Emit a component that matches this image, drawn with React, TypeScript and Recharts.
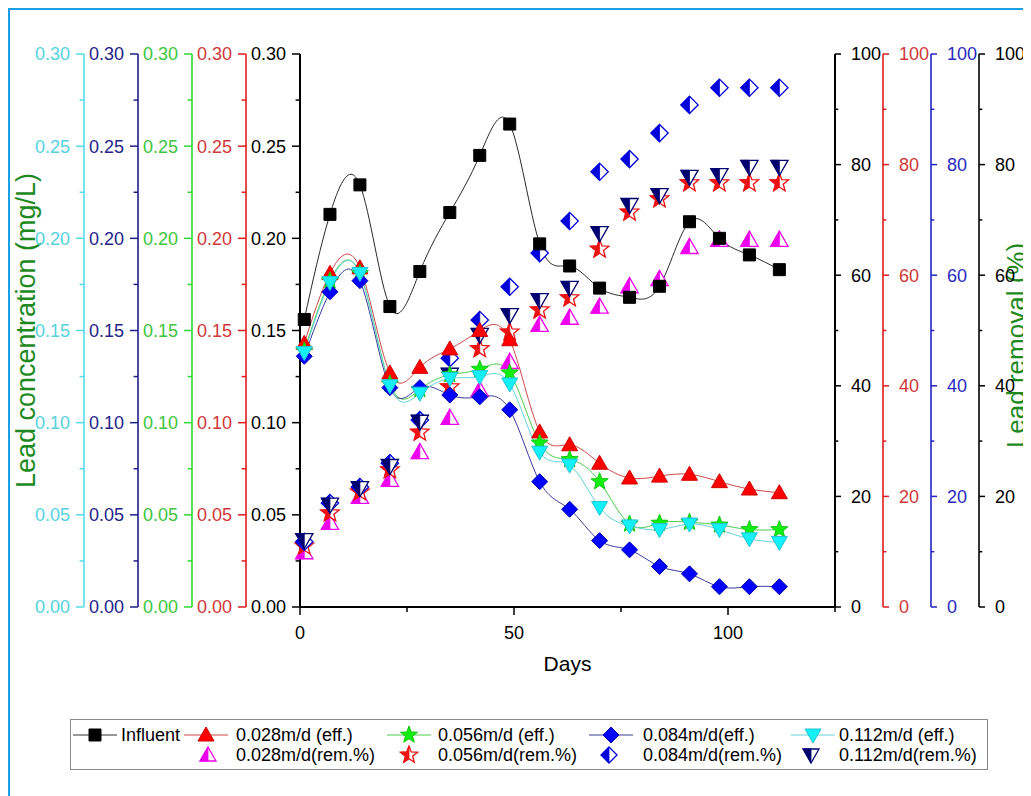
import { ComposedChart, Line, Scatter, XAxis, YAxis, Legend } from 'recharts';

// sampling days
const days = [1, 7, 14, 21, 28, 35, 42, 49, 56, 63, 70, 77, 84, 91, 98, 105, 112];

// lead concentration (mg/L)
const influent = [0.156, 0.213, 0.229, 0.163, 0.182, 0.214, 0.245, 0.262, 0.197, 0.185, 0.173, 0.168, 0.174, 0.209, 0.2, 0.191, 0.183];
const eff028 = [0.143, 0.181, 0.184, 0.127, 0.13, 0.14, 0.15, 0.145, 0.095, 0.088, 0.078, 0.07, 0.071, 0.072, 0.068, 0.064, 0.062];
const eff056 = [0.139, 0.177, 0.181, 0.121, 0.118, 0.126, 0.129, 0.127, 0.089, 0.08, 0.068, 0.045, 0.0455, 0.046, 0.0445, 0.042, 0.042];
const eff084 = [0.136, 0.171, 0.177, 0.119, 0.119, 0.115, 0.114, 0.107, 0.068, 0.053, 0.036, 0.031, 0.022, 0.018, 0.011, 0.011, 0.011];
const eff112 = [0.138, 0.176, 0.181, 0.12, 0.116, 0.124, 0.125, 0.121, 0.084, 0.077, 0.054, 0.044, 0.042, 0.045, 0.042, 0.037, 0.035];

// lead removal (%)
const rem028 = [9.9, 15.2, 19.9, 23.0, 28.0, 34.2, 39.2, 44.3, 51.0, 52.3, 54.3, 58.0, 59.3, 65.1, 66.4, 66.4, 66.4];
const rem056 = [11.0, 17.0, 20.8, 24.8, 31.6, 39.8, 46.7, 49.7, 53.7, 55.9, 64.7, 71.4, 73.8, 76.7, 76.7, 76.7, 76.7];
const rem084 = [11.8, 18.8, 21.7, 26.0, 33.8, 45.0, 51.9, 57.9, 64.0, 69.8, 78.7, 81.0, 85.7, 90.8, 93.9, 93.9, 93.9];
const rem112 = [12.1, 18.5, 21.5, 25.5, 33.5, 42.0, 49.2, 52.8, 55.5, 57.7, 67.6, 72.7, 74.5, 77.8, 78.1, 79.6, 79.6];

// axis ticks
const concTicks = [0, 0.025, 0.05, 0.075, 0.1, 0.125, 0.15, 0.175, 0.2, 0.225, 0.25, 0.275, 0.3];
const remTicks = [0, 10, 20, 30, 40, 50, 60, 70, 80, 90, 100];
const dayTicks = [0, 25, 50, 75, 100, 125];

const data = days.map((day, i) => ({
  day,
  influent: influent[i],
  eff028: eff028[i],
  eff056: eff056[i],
  eff084: eff084[i],
  eff112: eff112[i],
  rem028: rem028[i],
  rem056: rem056[i],
  rem084: rem084[i],
  rem112: rem112[i],
}));

const FONT = '"Liberation Sans", Arial, Helvetica, sans-serif';
const TITLE_GREEN = '#1e8a1e';

// axis ids sort inner -> outer
const effSeries = [
  { key: 'influent', name: 'Influent', axis: 'L1', line: '#2a2a2a', kind: 'square', fill: '#000000', stroke: '#000000' },
  { key: 'eff028', name: '0.028m/d (eff.)', axis: 'L2', line: '#d04848', kind: 'up', fill: '#ff0000', stroke: '#d00000' },
  { key: 'eff056', name: '0.056m/d (eff.)', axis: 'L3', line: '#4cca4c', kind: 'star', fill: '#11ee11', stroke: '#10c810' },
  { key: 'eff084', name: '0.084m/d(eff.)', axis: 'L4', line: '#3a3a9c', kind: 'diamond', fill: '#0000ff', stroke: '#0000b0' },
  { key: 'eff112', name: '0.112m/d (eff.)', axis: 'L5', line: '#62d2da', kind: 'down', fill: '#14f0f8', stroke: '#20c4d4' },
];

const remSeries = [
  { key: 'rem028', name: '0.028m/d(rem.%)', axis: 'R1', kind: 'up', color: '#ee00ee' },
  { key: 'rem056', name: '0.056m/d(rem.%)', axis: 'R2', kind: 'star', color: '#ee1111' },
  { key: 'rem084', name: '0.084m/d(rem.%)', axis: 'R3', kind: 'diamond', color: '#0000dd' },
  { key: 'rem112', name: '0.112m/d(rem.%)', axis: 'R4', kind: 'down', color: '#000070' },
];

const leftAxes = [
  { id: 'L1', line: '#000000', text: '#000000' },
  { id: 'L2', line: '#e01c1c', text: '#d03838' },
  { id: 'L3', line: '#2ed82e', text: '#3cc63c' },
  { id: 'L4', line: '#1e1e8a', text: '#23238a' },
  { id: 'L5', line: '#55dce6', text: '#55d2de' },
];

const rightAxes = [
  { id: 'R1', line: '#000000', text: '#000000' },
  { id: 'R2', line: '#e01c1c', text: '#d03838' },
  { id: 'R3', line: '#2424c8', text: '#2a2ac0' },
  { id: 'R4', line: '#000000', text: '#000000' },
];

type Pt = [number, number];

function shapePts(kind: string, cx: number, cy: number, s = 1): { full: Pt[]; left: Pt[] } {
  if (kind === 'square') {
    const h = 6 * s;
    return {
      full: [[cx - h, cy - h], [cx + h, cy - h], [cx + h, cy + h], [cx - h, cy + h]],
      left: [[cx - h, cy - h], [cx, cy - h], [cx, cy + h], [cx - h, cy + h]],
    };
  }
  const a8 = 8 * s;
  const a6 = 6 * s;
  if (kind === 'up') {
    return {
      full: [[cx, cy - a8], [cx + a8, cy + a6], [cx - a8, cy + a6]],
      left: [[cx, cy - a8], [cx, cy + a6], [cx - a8, cy + a6]],
    };
  }
  if (kind === 'down') {
    return {
      full: [[cx - a8, cy - a6], [cx + a8, cy - a6], [cx, cy + a8]],
      left: [[cx - a8, cy - a6], [cx, cy - a6], [cx, cy + a8]],
    };
  }
  if (kind === 'diamond') {
    return {
      full: [[cx, cy - a8], [cx + a8, cy], [cx, cy + a8], [cx - a8, cy]],
      left: [[cx, cy - a8], [cx, cy + a8], [cx - a8, cy]],
    };
  }
  // star
  const pts: Pt[] = [];
  for (let k = 0; k < 10; k++) {
    const a = ((-90 + 36 * k) * Math.PI) / 180;
    const r = (k % 2 === 0 ? 9 : 3.8) * s;
    pts.push([cx + r * Math.cos(a), cy + r * Math.sin(a)]);
  }
  return { full: pts, left: [pts[5], pts[6], pts[7], pts[8], pts[9], pts[0]] };
}

const toStr = (p: Pt[]) => p.map((q) => `${q[0].toFixed(2)},${q[1].toFixed(2)}`).join(' ');

function Marker({ cx, cy, kind, fill, stroke }: { cx: number; cy: number; kind: string; fill: string; stroke: string }) {
  if (cx == null || cy == null) return null;
  const { full } = shapePts(kind, cx, cy);
  return <polygon points={toStr(full)} fill={fill} stroke={stroke} strokeWidth={1} />;
}

function HalfMarker({ cx, cy, kind, color, s = 1.08 }: { cx: number; cy: number; kind: string; color: string; s?: number }) {
  if (cx == null || cy == null) return null;
  const { full, left } = shapePts(kind, cx, cy, s);
  return (
    <g>
      <polygon points={toStr(full)} fill="#ffffff" stroke={color} strokeWidth={1.3} />
      <polygon points={toStr(left)} fill={color} stroke={color} strokeWidth={0.8} />
    </g>
  );
}

function isMajor(v: number, step: number) {
  return Math.abs(v / step - Math.round(v / step)) < 1e-6;
}

function makeYTick(side: 'left' | 'right', lineColor: string, textColor: string, step: number, digits: number, size: number, gap: number) {
  return (p: any) => {
    const v = p.payload.value;
    const major = isMajor(v, step);
    const dir = side === 'left' ? -1 : 1;
    const axisX = p.x - dir * (size + gap);
    const len = major ? size : size * 0.55;
    return (
      <g>
        <line x1={axisX} x2={axisX + dir * len} y1={p.y} y2={p.y} stroke={lineColor} strokeWidth={1.5} />
        {major && (
          <text x={p.x} y={p.y} dy="0.36em" textAnchor={side === 'left' ? 'end' : 'start'} fill={textColor} fontSize={18} fontFamily={FONT}>
            {v.toFixed(digits)}
          </text>
        )}
      </g>
    );
  };
}

const xTick = (p: any) => {
  const v = p.payload.value;
  const major = isMajor(v, 50);
  const axisY = p.y - 8 - 11;
  return (
    <g>
      <line x1={p.x} x2={p.x} y1={axisY} y2={axisY + (major ? 8 : 5)} stroke="#000" strokeWidth={1.5} />
      {major && (
        <text x={p.x} y={p.y} dy="0.71em" textAnchor="middle" fill="#000" fontSize={18} fontFamily={FONT}>
          {v}
        </text>
      )}
    </g>
  );
};

const legendCells = [
  { name: effSeries[0].name, row: 0, sym: 24, txt: 50, kind: 'square', fill: '#000', stroke: '#000', line: '#333', half: false },
  { name: effSeries[1].name, row: 0, sym: 135, txt: 165, kind: 'up', fill: effSeries[1].fill, stroke: effSeries[1].stroke, line: effSeries[1].line, half: false },
  { name: effSeries[2].name, row: 0, sym: 338, txt: 367, kind: 'star', fill: effSeries[2].fill, stroke: effSeries[2].stroke, line: effSeries[2].line, half: false },
  { name: effSeries[3].name, row: 0, sym: 540, txt: 572, kind: 'diamond', fill: effSeries[3].fill, stroke: effSeries[3].stroke, line: effSeries[3].line, half: false },
  { name: effSeries[4].name, row: 0, sym: 742, txt: 768, kind: 'down', fill: effSeries[4].fill, stroke: effSeries[4].stroke, line: effSeries[4].line, half: false },
  { name: remSeries[0].name, row: 1, sym: 137, txt: 165, kind: 'up', fill: remSeries[0].color, stroke: remSeries[0].color, line: '', half: true },
  { name: remSeries[1].name, row: 1, sym: 338, txt: 367, kind: 'star', fill: remSeries[1].color, stroke: remSeries[1].color, line: '', half: true },
  { name: remSeries[2].name, row: 1, sym: 538, txt: 572, kind: 'diamond', fill: remSeries[2].color, stroke: remSeries[2].color, line: '', half: true },
  { name: remSeries[3].name, row: 1, sym: 740, txt: 768, kind: 'down', fill: remSeries[3].color, stroke: remSeries[3].color, line: '', half: true },
];

function LegendBox() {
  return (
    <div
      style={{
        position: 'relative',
        width: 918,
        height: 51,
        border: '1px solid #8a8a8a',
        background: '#fff',
        fontFamily: FONT,
        fontSize: 18,
        color: '#000',
        boxSizing: 'border-box',
      }}
    >
      {legendCells.map((c) => {
        const cy = c.row === 0 ? 15 : 35;
        return (
          <div key={c.name}>
            <svg width={48} height={20} style={{ position: 'absolute', left: c.sym - 24, top: cy - 10, overflow: 'visible' }}>
              {c.line && <line x1={2} x2={46} y1={10} y2={10} stroke={c.line} strokeWidth={1} />}
              {c.half ? (
                <HalfMarker cx={24} cy={10} kind={c.kind} color={c.fill} s={1} />
              ) : (
                <Marker cx={24} cy={10} kind={c.kind} fill={c.fill} stroke={c.stroke} />
              )}
            </svg>
            <span style={{ position: 'absolute', left: c.txt, top: cy - 11, lineHeight: '22px', whiteSpace: 'nowrap' }}>{c.name}</span>
          </div>
        );
      })}
    </div>
  );
}

export default function App() {
  return (
    <div style={{ position: 'relative', width: 1030, height: 800, border: '2px solid #1ba0e6', background: '#fff' }}>
      <ComposedChart
        width={1021}
        height={780}
        data={data}
        margin={{ top: 44, right: 4, bottom: 113, left: 20 }}
        style={{ fontFamily: FONT }}
      >
        <XAxis
          dataKey="day"
          type="number"
          domain={[0, 125]}
          ticks={dayTicks}
          interval={0}
          height={70}
          tickSize={8}
          tickMargin={11}
          tickLine={false}
          axisLine={{ stroke: '#000', strokeWidth: 2 }}
          tick={xTick}
          label={(p: any) => {
            const vb = p.viewBox || { x: 290, y: 597, width: 535 };
            return (
              <text x={vb.x + vb.width / 2} y={vb.y + 64} textAnchor="middle" fontSize={21} fontFamily={FONT} fill="#000">
                Days
              </text>
            );
          }}
        />
        {leftAxes.map((a, i) => (
          <YAxis
            key={a.id}
            yAxisId={a.id}
            orientation="left"
            width={54}
            domain={[0, 0.3]}
            ticks={concTicks}
            interval={0}
            tickSize={8}
            tickMargin={6}
            tickLine={false}
            axisLine={{ stroke: a.line, strokeWidth: a.id === 'L1' ? 2 : 1.6 }}
            tick={makeYTick('left', a.line, a.text, 0.05, 2, 8, 6)}
            label={
              i === leftAxes.length - 1
                ? (p: any) => {
                    const vb = p.viewBox || { x: 20, y: 44, height: 553 };
                    const x = vb.x - 4;
                    const y = vb.y + vb.height / 2;
                    return (
                      <text x={x} y={y} dy="0.35em" transform={`rotate(-90 ${x} ${y})`} textAnchor="middle" fontSize={27} fontFamily={FONT} fill={TITLE_GREEN}>
                        Lead concentration (mg/L)
                      </text>
                    );
                  }
                : undefined
            }
          />
        ))}
        {rightAxes.map((a, i) => (
          <YAxis
            key={a.id}
            yAxisId={a.id}
            orientation="right"
            width={48}
            domain={[0, 100]}
            ticks={remTicks}
            interval={0}
            tickSize={6}
            tickMargin={10}
            tickLine={false}
            axisLine={{ stroke: a.line, strokeWidth: a.id === 'R1' ? 2 : 1.6 }}
            tick={makeYTick('right', a.line, a.text, 20, 0, 6, 10)}
            label={
              i === rightAxes.length - 1
                ? (p: any) => {
                    const vb = p.viewBox || { x: 969, y: 44, height: 553 };
                    const x = vb.x + 37;
                    const y = vb.y + vb.height / 2 + 15;
                    return (
                      <text x={x} y={y} dy="0.35em" transform={`rotate(-90 ${x} ${y})`} textAnchor="middle" fontSize={26} fontFamily={FONT} fill={TITLE_GREEN}>
                        Lead removal (%)
                      </text>
                    );
                  }
                : undefined
            }
          />
        ))}
        {effSeries.map((s) => (
          <Line
            key={s.key}
            yAxisId={s.axis}
            dataKey={s.key}
            name={s.name}
            type="natural"
            stroke={s.line}
            strokeWidth={1}
            isAnimationActive={false}
            activeDot={false}
            dot={(p: any) => <Marker key={`${s.key}-${p.index}`} cx={p.cx} cy={p.cy} kind={s.kind} fill={s.fill} stroke={s.stroke} />}
          />
        ))}
        {remSeries.map((s) => (
          <Scatter
            key={s.key}
            yAxisId={s.axis}
            dataKey={s.key}
            name={s.name}
            isAnimationActive={false}
            shape={(p: any) => <HalfMarker cx={p.cx} cy={p.cy} kind={s.kind} color={s.color} />}
          />
        ))}
        <Legend
          layout="horizontal"
          verticalAlign="middle"
          align="center"
          wrapperStyle={{ top: 709, left: 60, width: 918, height: 51 }}
          content={() => <LegendBox />}
        />
      </ComposedChart>
    </div>
  );
}
